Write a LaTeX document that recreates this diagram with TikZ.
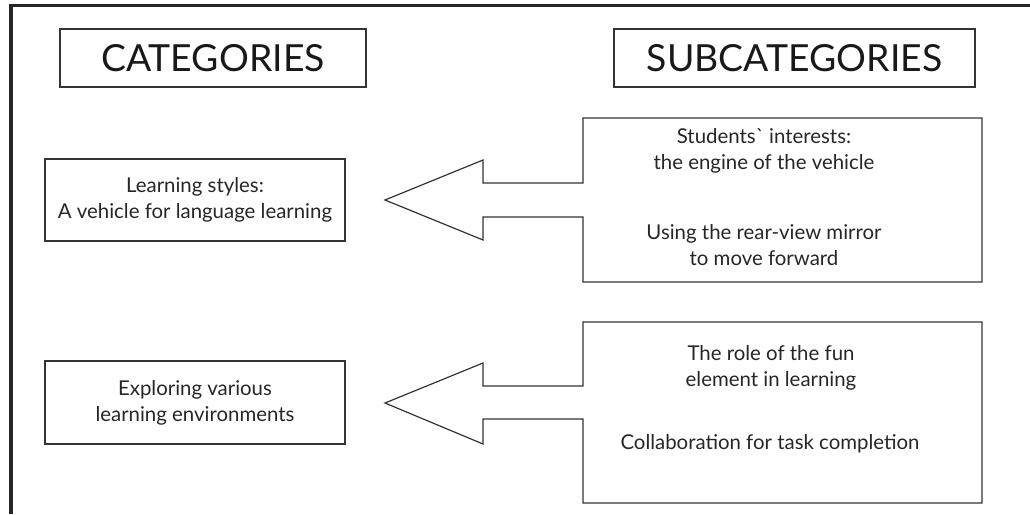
\documentclass[tikz,border=0pt]{standalone}
\usepackage{fontspec}
\setmainfont{Lato}
\usepackage{tikz}

\tikzset{
  headbox/.style={draw=black!80, line width=0.9pt, inner sep=0pt, outer sep=0pt, font=\fontsize{28}{32}\selectfont, text=black!90},
  catbox/.style={draw=black!80, line width=0.9pt, inner sep=0pt, outer sep=0pt, align=center, font=\fontsize{15.3}{19.5}\selectfont, text=black!85},
  subbox/.style={inner sep=0pt, outer sep=0pt},
  txt/.style={align=center, inner sep=0pt, font=\fontsize{15.3}{19.5}\selectfont, text=black!85},
  outline/.style={draw=black!80, line width=0.9pt, line join=miter}
}

\begin{document}
\begin{tikzpicture}[x=0.75pt,y=0.75pt,yscale=-1,xscale=1]
        \useasboundingbox (0,0) rectangle (1030,514);
        % frame
        \draw [line width=2.4pt, color=black!85] (11,514) -- (11,5.5) -- (1030,5.5);

        % headings
        \node [headbox, minimum width=229.5pt, minimum height=43.5pt] (cat) at (213,58) {CATEGORIES};
        \node [headbox, minimum width=270.75pt, minimum height=43.5pt] (subcat) at (794.5,58) {SUBCATEGORIES};

        % categories
        \node [catbox, minimum width=225pt, minimum height=61.5pt] (cat1) at (195,200) {Learning styles:\\A vehicle for language learning};
        \node [catbox, minimum width=225pt, minimum height=62.25pt] (cat2) at (195,402.5) {Exploring various\\learning environments};

        % subcategories
        \node [subbox, minimum width=299.25pt, minimum height=123pt] (sub1) at (782.5,200) {};
        \node [subbox, minimum width=299.25pt, minimum height=135.75pt] (sub2) at (782.5,412.5) {};

        \node [txt] (sub1a) at (764,151) {Students\textasciigrave{} interests:\\the engine of the vehicle};
        \node [txt] (sub1b) at (764,245) {Using the rear-view mirror\\to move forward};
        \node [txt] (sub2a) at (771,367.5) {The role of the fun\\element in learning};
        \node [txt] (sub2b) at (770,444) {Collaboration for task completion};

        % block arrows
        \coordinate (tip1) at (385,200);
        \coordinate (tip2) at (385,403);
        \draw [outline] (sub1.north west) -- (sub1.north east) -- (sub1.south east) -- (sub1.south west) -- (583,217) -- (483,217) -- (483,240) -- (tip1) -- (483,160) -- (483,183) -- (583,183) -- cycle;
        \draw [outline] (sub2.north west) -- (sub2.north east) -- (sub2.south east) -- (sub2.south west) -- (583,419) -- (483,419) -- (483,444) -- (tip2) -- (483,363) -- (483,386) -- (583,386) -- cycle;

    \end{tikzpicture}
\end{document}
